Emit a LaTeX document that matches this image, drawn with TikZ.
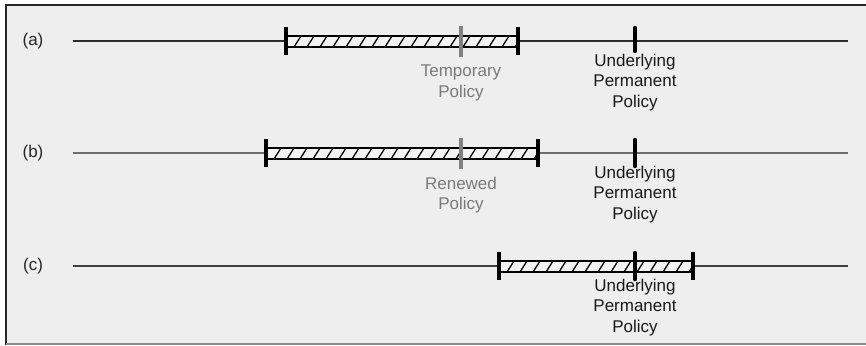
\documentclass[tikz,border=0pt]{standalone}
\usepackage{fontspec}
\setmainfont{Liberation Sans}
\definecolor{bgc}{HTML}{EEEEEE}
\definecolor{tgray}{HTML}{7A7A7A}
\definecolor{tickgray}{HTML}{808080}
\definecolor{lineA}{HTML}{2E2E2E}
\definecolor{lineB}{HTML}{6E6E6E}
\definecolor{lineC}{HTML}{404040}
\definecolor{barfill}{HTML}{F2F2F2}
\begin{document}
\begin{tikzpicture}[x=1pt,y=-1pt,
  timeline/.style={line width=1.6pt},
  barbox/.style={draw=black, line width=1.4pt, fill=barfill},
  hatchline/.style={black, line width=1.3pt},
  endtick/.style={black, line width=3.4pt},
  graytick/.style={tickgray, line width=4.2pt},
  permtick/.style={black, line width=4.6pt, line cap=round},
  rowlabel/.style={inner sep=0pt, font=\fontsize{17}{20}\selectfont, text=black!85},
  graylabel/.style={inner sep=0pt, align=center, font=\fontsize{17}{20.5}\selectfont, text=tgray},
  permlabel/.style={inner sep=0pt, align=center, font=\fontsize{17}{20.5}\selectfont, text=black!90}
]
\useasboundingbox (0,0) rectangle (866,345);
% background and frame
\fill[bgc] (6,6) rectangle (866,343);
\draw[black!85, line width=2pt] (6,345) -- (6,5.5) -- (866,5.5);
\draw[black!45, line width=2pt] (6,344) -- (866,344);

% ---------- row (a) ----------
\node[rowlabel] (la) at (33,41) {(a)};
\coordinate (a0) at (73,41);
\coordinate (a1) at (848,41);
\draw[timeline, lineA] (a0) -- (a1);
\draw[barbox] (286,36) rectangle (518,47);
\begin{scope}
  \clip (286,36) rectangle (518,47);
  \foreach \x in {281,294,...,530} \draw[hatchline] (\x,47) -- (\x+7,36);
\end{scope}
\draw[barbox, fill=none] (286,36) rectangle (518,47);
\draw[endtick] (286,27) -- (286,55);
\draw[endtick] (518,27) -- (518,55);
\draw[graytick] (461,26) -- (461,57);
\draw[permtick] (635,28) -- (635,51);
\node[graylabel] (ta) at (461,83) {Temporary\\Policy};
\node[permlabel] (pa) at (635,82.5) {Underlying\\Permanent\\Policy};

% ---------- row (b) ----------
\node[rowlabel] (lb) at (33,153) {(b)};
\coordinate (b0) at (73,153);
\coordinate (b1) at (848,153);
\draw[timeline, lineB] (b0) -- (b1);
\draw[barbox] (266,148) rectangle (538,159);
\begin{scope}
  \clip (266,148) rectangle (538,159);
  \foreach \x in {261,274,...,550} \draw[hatchline] (\x,159) -- (\x+7,148);
\end{scope}
\draw[barbox, fill=none] (266,148) rectangle (538,159);
\draw[endtick] (266,139) -- (266,167);
\draw[endtick] (538,139) -- (538,167);
\draw[graytick] (461,138) -- (461,169);
\draw[permtick] (635,140) -- (635,166);
\node[graylabel] (tb) at (461,195) {Renewed\\Policy};
\node[permlabel] (pb) at (635,194.5) {Underlying\\Permanent\\Policy};

% ---------- row (c) ----------
\node[rowlabel] (lc) at (33,266) {(c)};
\coordinate (c0) at (73,266);
\coordinate (c1) at (848,266);
\draw[timeline, lineC] (c0) -- (c1);
\draw[barbox] (499,261) rectangle (693,272);
\begin{scope}
  \clip (499,261) rectangle (693,272);
  \foreach \x in {494,507,...,705} \draw[hatchline] (\x,272) -- (\x+7,261);
\end{scope}
\draw[barbox, fill=none] (499,261) rectangle (693,272);
\draw[endtick] (499,252) -- (499,280);
\draw[endtick] (693,252) -- (693,280);
\draw[permtick] (635,253) -- (635,279);
\node[permlabel] (pc) at (635,307.5) {Underlying\\Permanent\\Policy};
\end{tikzpicture}
\end{document}
